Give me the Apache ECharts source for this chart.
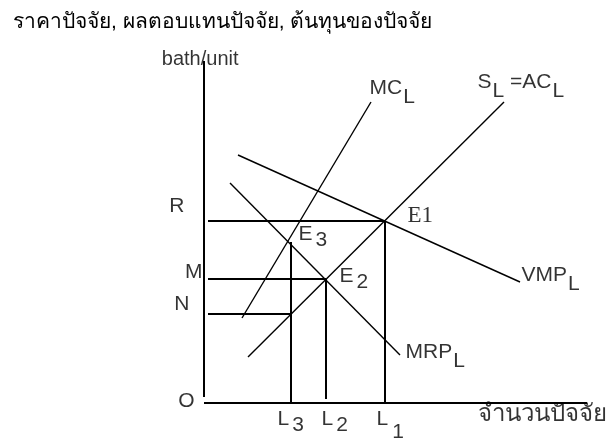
<!DOCTYPE html>
<html>
<head>
<meta charset="utf-8">
<script src="https://cdn.jsdelivr.net/npm/echarts@6/dist/echarts.min.js"></script>
<style>
  html, body { margin: 0; padding: 0; background: #fff; }
  #chart { width: 610px; height: 439px; }
</style>
</head>
<body>
<div id="chart"></div>
<script>
// Factor market: VMP, MRP, supply (= AC) and marginal cost of a factor.
// Units are abstract (bath per unit of factor vs. quantity of factor).

const titleText = 'ราคาปัจจัย, ผลตอบแทนปัจจัย, ต้นทุนของปัจจัย';
const yAxisName = 'bath/unit';
const xAxisName = 'จำนวนปัจจัย';

// Axis extents
const xMax = 383;
const yMax = 345;
const yAxisSpan = [[0, 6], [0, 342]];
const xAxisSpan = [[0, 0], [383, 0]];

// Curves (two end points each)
const supplyLine = [[44, 46], [300, 301]];   // S_L = AC_L
const mcLine = [[38, 85], [167, 301]];       // MC_L
const mrpLine = [[26, 220], [196, 48]];      // MRP_L
const vmpLine = [[34, 248], [316, 121]];     // VMP_L

// Factor quantities and prices
const L1 = 181, L2 = 122, L3 = 87;
const R = 182, M = 124, N = 89;
const E3level = 161;
const guideStart = 4;

const INK = '#000';
const SANS = 'Liberation Sans';
const THAI = 'sans-serif';

function seg(data, width) {
  return {
    type: 'line', data: data, symbol: 'none', silent: true, animation: false,
    lineStyle: { color: INK, width: width }
  };
}

function txt(size, family, pad) {
  return {
    fontFamily: family || SANS, fontSize: size, lineHeight: size + 2, color: INK,
    verticalAlign: 'top', padding: pad || 0
  };
}

const rich = {
  t: txt(21),
  s: txt(21, SANS, [9, 0, 0, 1]),
  s6: txt(21, SANS, [6, 0, 0, 3]),
  s13: txt(21, SANS, [13, 0, 0, 4]),
  e: txt(23, 'Liberation Serif'),
  th: txt(24, THAI),
  bu: txt(20)
};

function lbl(point, text, pos, align) {
  return {
    value: point,
    label: {
      show: true, formatter: text, position: pos,
      align: align || 'left', verticalAlign: 'top',
      color: INK, fontFamily: SANS, fontSize: 21, rich: rich
    }
  };
}

const labelData = [
  lbl(mcLine[1], '{t|MC}{s|L}', [-1, -24]),
  lbl(supplyLine[1], '{t|S}{s|L}{t| =AC}{s|L}', [-26, -30]),
  lbl(vmpLine[1], '{t|VMP}{s|L}', [2, -17]),
  lbl(mrpLine[1], '{t|MRP}{s|L}', [6, -13]),
  lbl([L1, R], '{e|E1}', [23, -16]),
  lbl([L2, M], '{t|E}{s6|2}', [14, -13]),
  lbl([L3, E3level], '{t|E}{s6|3}', [8, -18]),
  lbl([0, R], '{t|R}', [-19, -25], 'right'),
  lbl([0, M], '{t|M}', [-1, -17], 'right'),
  lbl([0, N], '{t|N}', [-14, -20], 'right'),
  lbl([0, 0], '{t|O}', [-9, -12], 'right'),
  lbl([L3, 0], '{t|L}{s6|3}', [-13, 6]),
  lbl([L2, 0], '{t|L}{s6|2}', [-4, 6]),
  lbl([L1, 0], '{t|L}{s13|1}', [-8, 6]),
  lbl(xAxisSpan[1], '{th|' + xAxisName + '}', [20, 0], 'right'),
  lbl(yAxisSpan[1], '{bu|' + yAxisName + '}', [35, -11], 'right')
];

const chart = echarts.init(document.getElementById('chart'), null, { renderer: 'canvas' });

chart.setOption({
  backgroundColor: '#fff',
  animation: false,
  title: {
    text: titleText, left: 8, top: 7,
    textStyle: { fontFamily: THAI, fontSize: 21, fontWeight: 'normal', color: INK }
  },
  grid: { left: 204, top: 58, width: xMax, height: yMax },
  xAxis: { type: 'value', min: 0, max: xMax, show: false },
  yAxis: { type: 'value', min: 0, max: yMax, show: false },
  series: [
    seg(yAxisSpan, 2),
    seg(xAxisSpan, 2),
    // guide lines from the price axis to the equilibria
    seg([[guideStart, R], [L1, R]], 2),
    seg([[guideStart, M], [L2, M]], 2),
    seg([[guideStart, N], [L3, N]], 2),
    // guide lines down to the quantity axis
    seg([[L1, 0], [L1, R]], 2),
    seg([[L2, 4], [L2, M]], 2),
    seg([[L3, 0], [L3, E3level]], 2),
    // curves
    seg(supplyLine, 1.4),
    seg(mcLine, 1.4),
    seg(mrpLine, 1.4),
    seg(vmpLine, 1.4),
    {
      type: 'scatter', data: labelData, symbolSize: 1, silent: true, animation: false,
      itemStyle: { color: 'rgba(0,0,0,0)' }
    }
  ]
});
</script>
</body>
</html>
